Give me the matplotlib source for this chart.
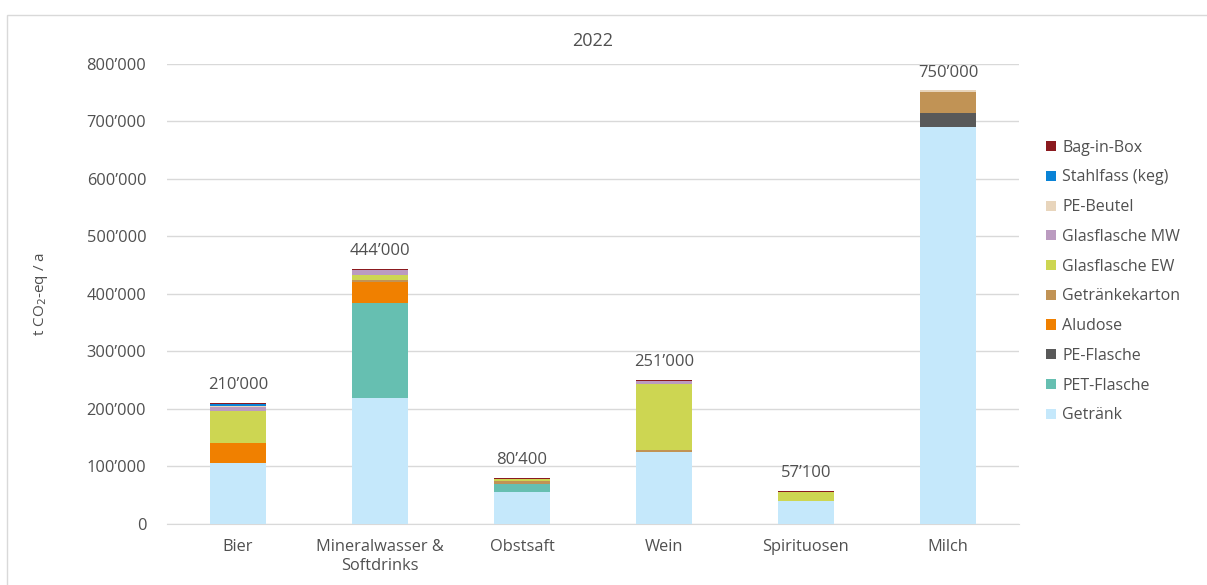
#!/usr/bin/env python3

"""
Treibhausgasemissionen Getränke nach Verpackung, 2022
"""

import numpy as np
import matplotlib
matplotlib.use("Agg")
import matplotlib.pyplot as plt
from matplotlib.ticker import FuncFormatter
from matplotlib.patches import Rectangle

categories = ["Bier", "Mineralwasser &\nSoftdrinks", "Obstsaft", "Wein", "Spirituosen", "Milch"]
totals = ["210’000", "444’000", "80’400", "251’000", "57’100", "750’000"]

# values in 1000 t CO2-eq / a, stacked bottom -> top
series_names = ["Getränk", "PET-Flasche", "PE-Flasche", "Aludose", "Getränkekarton",
                "Glasflasche EW", "Glasflasche MW", "PE-Beutel", "Stahlfass (keg)", "Bag-in-Box"]
getraenk = [106, 219, 56, 125, 40, 691]
pet_flasche = [0, 165, 13, 0, 0, 0]
pe_flasche = [0, 0, 0, 0, 0, 24]
aludose = [35, 37, 0, 1, 0, 0]
getraenkekarton = [0, 3, 6, 2, 0.5, 37]
glas_ew = [55, 9, 3, 115, 15.5, 0]
glas_mw = [8, 9, 0.4, 6, 0, 0]
pe_beutel = [1, 0, 0, 0, 0, 2]
stahlfass = [3, 0, 0, 0, 0, 0]
bag_in_box = [2, 2, 2, 2, 1.1, 0]

colors = ["#C5E8FB", "#66BFB1", "#595959", "#F08000", "#C19355",
          "#CDD652", "#BB9BC0", "#E8D5BC", "#0A83D6", "#8B1A1F"]

txt = "#505050"
plt.rcParams["font.family"] = ["Open Sans", "DejaVu Sans"]

fig = plt.figure(figsize=(12.07, 5.85), dpi=100)
ax = fig.add_axes([0.1384, 0.1043, 0.7058, 0.7863])

data = [getraenk, pet_flasche, pe_flasche, aludose, getraenkekarton,
        glas_ew, glas_mw, pe_beutel, stahlfass, bag_in_box]
x = np.arange(len(categories))
bottom = np.zeros(len(categories))
handles = []
for name, vals, col in zip(series_names, data, colors):
  vals = np.array(vals, dtype=float) * 1000
  h = ax.bar(x, vals, 0.4, bottom=bottom, color=col, label=name, zorder=3)
  handles.append(h)
  bottom += vals

for xi, top, lab in zip(x, bottom, totals):
  ax.text(xi, top + 17000, lab, ha="center", va="bottom", fontsize=12, color=txt)

ax.set_xlim(-0.5, 5.5)
ax.set_ylim(0, 800000)
ax.set_yticks(np.arange(0, 800001, 100000))
ax.yaxis.set_major_formatter(FuncFormatter(lambda v, p: "0" if v == 0 else f"{int(v):,}".replace(",", "’")))
ax.set_xticks(x)
ax.set_xticklabels(categories, linespacing=1.25)
ax.tick_params(axis="both", length=0, labelsize=11.8, colors=txt)
ax.tick_params(axis="y", pad=15)
ax.tick_params(axis="x", pad=11)
ax.grid(axis="y", color="#D9D9D9", linewidth=1, zorder=0)
for s in ["top", "right", "left"]:
  ax.spines[s].set_visible(False)
ax.spines["bottom"].set_color("#D9D9D9")

ax.set_title("2022", fontsize=13, color=txt, pad=13)
ax.set_ylabel("t CO$_2$-eq / a", fontsize=11, color=txt, labelpad=26)

leg = ax.legend(handles[::-1], series_names[::-1], loc="center left", bbox_to_anchor=(1.015, 0.527),
                frameon=False, fontsize=11.5, handlelength=0.6, handleheight=0.6,
                handletextpad=0.4, labelspacing=0.86)
for t in leg.get_texts():
  t.set_color(txt)

fig.patches.append(Rectangle((0.006, -0.01), 0.995, 0.985, transform=fig.transFigure,
                             fill=False, edgecolor="#D9D9D9", linewidth=1))

fig.savefig("out.png", dpi=100)
